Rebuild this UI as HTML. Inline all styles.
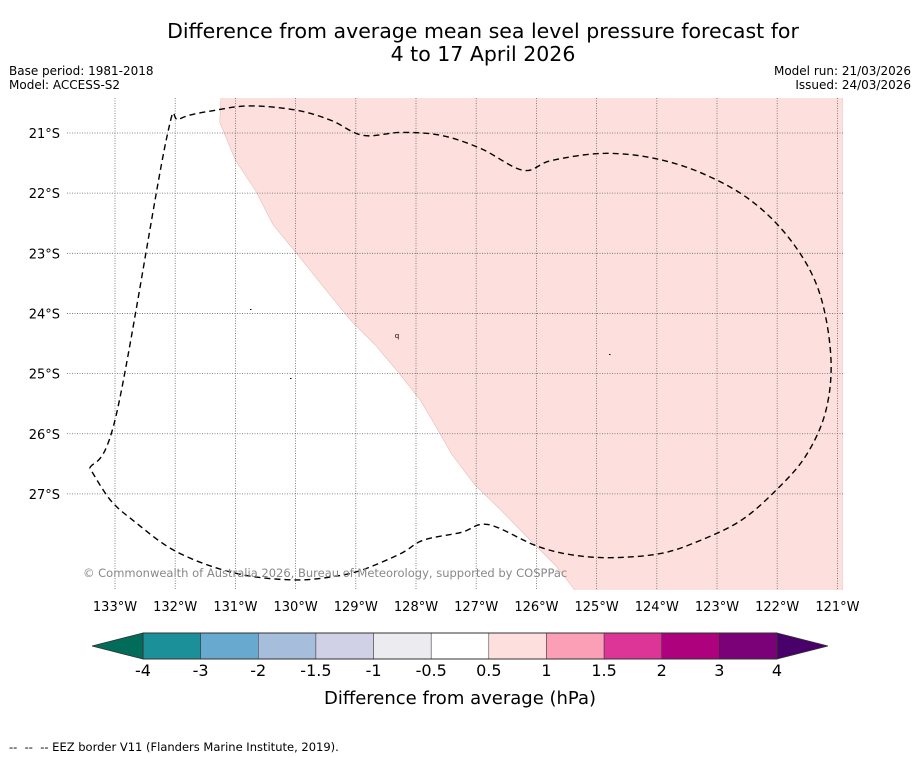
<!DOCTYPE html>
<html><head><meta charset="utf-8"><style>
body{margin:0;background:#fff;font-family:"Liberation Sans","DejaVu Sans",sans-serif;overflow:hidden;}
svg{display:block;}
svg text{font-family:"DejaVu Sans","Liberation Sans",sans-serif;}
</style></head><body>
<svg id="c" width="919" height="758" viewBox="0 0 919 758" xmlns="http://www.w3.org/2000/svg">
<text x="483" y="38" text-anchor="middle" font-size="20.5" fill="#000">Difference from average mean sea level pressure forecast for</text>
<text x="483" y="61" text-anchor="middle" font-size="20.5" fill="#000">4 to 17 April 2026</text>
<text x="9" y="75" font-size="12">Base period: 1981-2018</text>
<text x="9" y="89" font-size="12">Model: ACCESS-S2</text>
<text x="911" y="75" font-size="12" text-anchor="end">Model run: 21/03/2026</text>
<text x="911" y="89" font-size="12" text-anchor="end">Issued: 24/03/2026</text>
<g id="map"></g>
<g id="cbar"></g>
<text x="460" y="704" text-anchor="middle" font-size="18">Difference from average (hPa)</text>
<text x="9" y="751" font-size="11.5" xml:space="preserve">--  --  -- EEZ border V11 (Flanders Marine Institute, 2019).</text>
</svg>
<script>
const lonTicks=[133,132,131,130,129,128,127,126,125,124,123,122,121];
const latTicks=[21,22,23,24,25,26,27];
const anomalyRegion=[[131.24,20.42],[131.26,20.82],[131.0,21.45],[130.67,21.95],[130.37,22.53],[129.96,23.03],[129.56,23.53],[129.09,24.11],[128.68,24.52],[128.30,24.97],[127.93,25.44],[127.68,25.86],[127.40,26.35],[127.02,26.85],[126.60,27.26],[126.11,27.76],[125.69,28.18],[125.36,28.60]];
const eezBorder=[[133.42,26.57],[132.98,25.69],[132.15,21.12],[131.93,20.77],[131.32,20.62],[130.74,20.55],[129.99,20.62],[129.41,20.79],[128.88,21.04],[128.25,20.99],[127.58,21.04],[126.92,21.26],[126.22,21.62],[125.76,21.46],[124.93,21.34],[124.1,21.41],[123.27,21.66],[122.44,22.12],[121.77,22.79],[121.31,23.62],[121.11,24.7],[121.19,25.61],[121.52,26.36],[122.02,26.94],[122.6,27.44],[123.27,27.77],[123.93,27.99],[124.76,28.06],[125.43,28.01],[126.01,27.86],[126.8,27.51],[127.25,27.64],[127.88,27.77],[128.25,27.99],[128.91,28.27],[129.41,28.38],[129.99,28.43],[130.74,28.37],[131.41,28.2],[132.07,27.91],[132.65,27.48],[133.07,27.11],[133.42,26.57]];
const cbLevels=["-4","-3","-2","-1.5","-1","-0.5","0.5","1","1.5","2","3","4"];
const cbColors=["#1c9099","#67a9cf","#a6bddb","#d0d1e6","#ecebf0","#ffffff","#fde0dd","#fa9fb5","#dd3497","#ae017e","#7a0177"];
const cbUnder="#016c59", cbOver="#49006a";
const NS="http://www.w3.org/2000/svg";
const X0=67,X1=843,Y0=98,Y1=590;
const xs=lon=>115+(133-lon)*60.2;
const ys=lat=>133+(lat-21)*60.15;
function mk(tag,at,parent){const e=document.createElementNS(NS,tag);for(const k in at)e.setAttribute(k,at[k]);parent.appendChild(e);return e;}
const map=document.getElementById('map');
const cp=mk('clipPath',{id:'clip'},map);mk('rect',{x:X0,y:Y0,width:X1-X0,height:Y1-Y0},cp);
const g=mk('g',{'clip-path':'url(#clip)'},map);
let pts=anomalyRegion.map(p=>xs(p[0])+','+ys(p[1]));
pts.push(X1+','+(Y1+5));pts.push(X1+','+(Y0-5));pts.push(xs(anomalyRegion[0][0])+','+(Y0-5));
const reg=mk('polygon',{points:pts.join(' '),fill:'#fde0dd',stroke:'#e6bdb9','stroke-width':0.6},g);


lonTicks.forEach(l=>{const x=xs(l);
 const ln=mk('line',{x1:x,y1:Y0,x2:x,y2:Y1,stroke:'#666','stroke-width':0.8,'stroke-dasharray':'1,1.5'},g);
 
 const t=mk('text',{x:x,y:611,'text-anchor':'middle','font-size':13},map);t.textContent=l+'°W';
 });
latTicks.forEach(l=>{const y=ys(l);
 const ln=mk('line',{x1:X0,y1:y,x2:X1,y2:y,stroke:'#666','stroke-width':0.8,'stroke-dasharray':'1,1.5'},g);
 
 const t=mk('text',{x:60,y:y+5,'text-anchor':'end','font-size':13},map);t.textContent=l+'°S';
 });
// smooth EEZ via Catmull-Rom
const P=eezBorder.map(p=>[xs(p[0]),ys(p[1])]);
let d='M'+P[0][0]+','+P[0][1];
for(let i=0;i<P.length-1;i++){const p0=P[Math.max(i-1,0)],p1=P[i],p2=P[i+1],p3=P[Math.min(i+2,P.length-1)];
 const c1=[p1[0]+(p2[0]-p0[0])/6,p1[1]+(p2[1]-p0[1])/6],c2=[p2[0]-(p3[0]-p1[0])/6,p2[1]-(p3[1]-p1[1])/6];
 d+=` C${c1[0]},${c1[1]} ${c2[0]},${c2[1]} ${p2[0]},${p2[1]}`;}
const eez=mk('path',{d:d,fill:'none',stroke:'#000','stroke-width':1.4,'stroke-dasharray':'6,4'},g);

[[250,309],[290,378],[609,354]].forEach(p=>mk('rect',{x:p[0],y:p[1],width:1.5,height:1,fill:'#000'},g));
mk('text',{x:397,y:338,'text-anchor':'middle','font-size':7},g).textContent='q';
const cr=mk('text',{x:83,y:577,'font-size':11.5,fill:'#888'},map);cr.textContent='© Commonwealth of Australia 2026, Bureau of Meteorology, supported by COSPPac';

const cb=document.getElementById('cbar');
const CX0=143,CX1=777,CY0=633,CY1=659,w=(CX1-CX0)/cbColors.length;
const u=mk('polygon',{points:`92,646 ${CX0},${CY0} ${CX0},${CY1}`,fill:cbUnder,stroke:'#333','stroke-width':0.8},cb);

const o=mk('polygon',{points:`828,646 ${CX1},${CY0} ${CX1},${CY1}`,fill:cbOver,stroke:'#333','stroke-width':0.8},cb);

cbColors.forEach((c,i)=>{const r=mk('rect',{x:CX0+i*w,y:CY0,width:w,height:CY1-CY0,fill:c,stroke:'#333','stroke-width':0.5},cb);
 });
mk('rect',{x:CX0,y:CY0,width:CX1-CX0,height:CY1-CY0,fill:'none',stroke:'#333','stroke-width':1},cb);
cbLevels.forEach((l,i)=>{const t=mk('text',{x:CX0+i*w,y:676,'text-anchor':'middle','font-size':16},cb);t.textContent=l;
 });
</script>
</body></html>
